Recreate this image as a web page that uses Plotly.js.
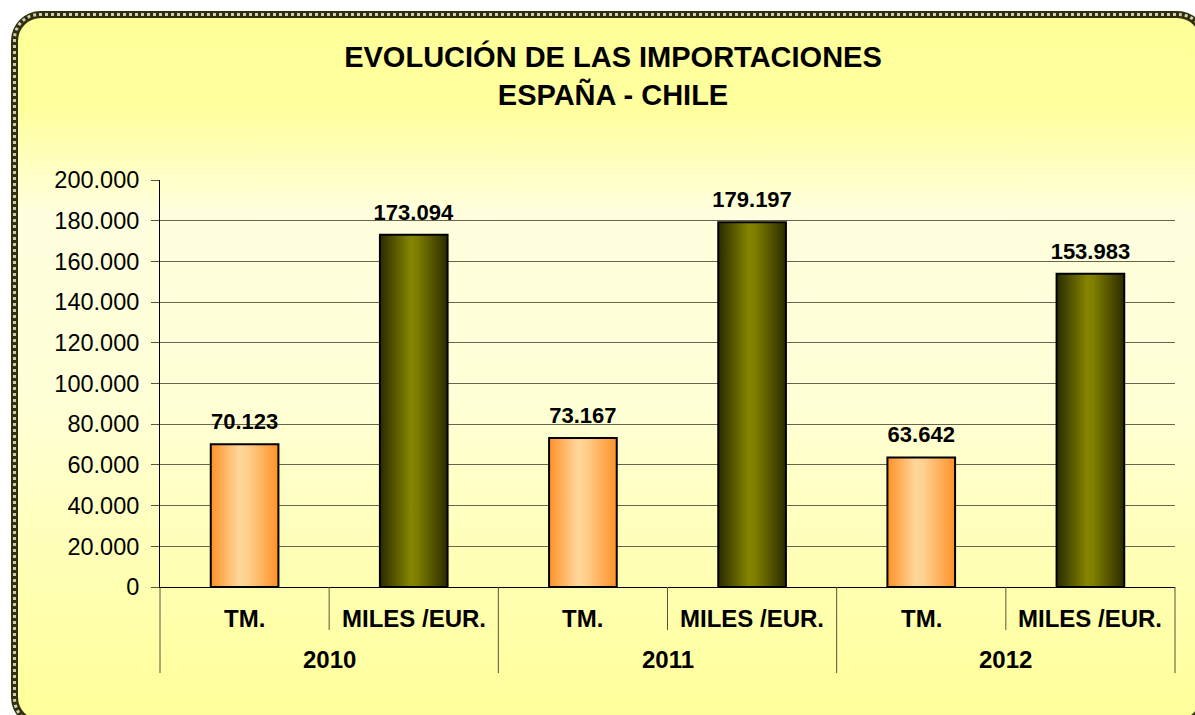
<!DOCTYPE html>
<html>
<head>
<meta charset="utf-8">
<script src="https://cdn.plot.ly/plotly-3.0.1.min.js"></script>
<style>
  html, body { margin:0; padding:0; width:1195px; height:715px; overflow:hidden; background:#ffffff; }
  #frame {
    position:absolute; left:11px; top:11px; width:1196px; height:716px;
    box-sizing:border-box; border:7px solid #30300c; border-radius:30px;
    background: linear-gradient(to bottom, #FFFF99 0%, #FFFF9E 13%, #FFFFDF 28%, #FFFFD6 55%, #FFFFB0 82%, #FFFF99 100%);
  }
  #frame::after {
    content:""; position:absolute; left:-5px; top:-5px; right:-5px; bottom:-5px;
    border:3px dotted rgba(235,235,215,0.85); border-radius:26px;
  }
  #chart { position:absolute; left:0; top:0; width:1195px; height:715px; }
</style>
</head>
<body>
<div id="frame"></div>
<div id="chart"></div>
<script>
const years = ["2010", "2011", "2012"];
const units = ["TM.", "MILES /EUR."];
const tmValues = [70123, 73167, 63642];
const milesValues = [173094, 179197, 153983];
const yTickVals = [0, 20000, 40000, 60000, 80000, 100000, 120000, 140000, 160000, 180000, 200000];

const xYears = [], xUnits = [], yVals = [];
years.forEach((yr, i) => {
  xYears.push(yr, yr);
  xUnits.push(units[0], units[1]);
  yVals.push(tmValues[i], milesValues[i]);
});
const colors = yVals.map((v, i) => i % 2 === 0 ? '#FF9933' : '#6B6B00');

const FONT = 'Liberation Sans, Arial, Helvetica, sans-serif';

const trace = {
  type: 'bar',
  x: [xYears, xUnits],
  y: yVals,
  marker: { color: colors, line: { color: '#000000', width: 2 } },
  texttemplate: '%{y:,.0f}',
  textposition: 'outside',
  constraintext: 'none',
  textfont: { family: FONT, size: 22, color: '#000000', weight: 'bold' },
  cliponaxis: false,
  hoverinfo: 'skip'
};

const n = xUnits.length;
const annotations = [];
const shapes = [];
for (let i = 0; i < n; i++) {
  annotations.push({
    xref: 'paper', yref: 'paper', x: (i + 0.5) / n, y: 0,
    text: xUnits[i], showarrow: false, xanchor: 'center', yanchor: 'middle', yshift: -31,
    font: { family: FONT, size: 24, color: '#000000', weight: 'bold' }
  });
}
years.forEach((yr, j) => {
  annotations.push({
    xref: 'paper', yref: 'paper', x: (2 * j + 1) / n, y: 0,
    text: yr, showarrow: false, xanchor: 'center', yanchor: 'middle', yshift: -72,
    font: { family: FONT, size: 24, color: '#000000', weight: 'bold' }
  });
});
const plotH = 715 - 180 - 128;
for (let k = 0; k <= n; k++) {
  const full = (k % 2 === 0);
  shapes.push({
    type: 'line', xref: 'paper', yref: 'paper',
    x0: k / n, x1: k / n, y0: 0, y1: -(full ? 86 : 43) / plotH,
    line: { color: '#55553a', width: 1 }
  });
}

const layout = {
  width: 1195, height: 715,
  margin: { l: 160, r: 20, t: 180, b: 128, pad: 0 },
  paper_bgcolor: 'rgba(0,0,0,0)',
  plot_bgcolor: 'rgba(0,0,0,0)',
  separators: ',.',
  showlegend: false,
  bargap: 0.6,
  title: {
    text: 'EVOLUCIÓN DE LAS IMPORTACIONES<br>ESPAÑA - CHILE',
    font: { family: FONT, size: 29, color: '#000000', weight: 'bold' },
    xref: 'container', yref: 'container',
    x: 613 / 1195, xanchor: 'center',
    y: 1 - 67 / 715, yanchor: 'top'
  },
  xaxis: {
    type: 'multicategory',
    showticklabels: false,
    showdividers: false,
    showgrid: false,
    ticks: '',
    showline: true, linecolor: '#000000', linewidth: 1,
    fixedrange: true
  },
  yaxis: {
    range: [0, 200000],
    tickvals: yTickVals,
    tickformat: ',.0f',
    ticks: 'outside', ticklen: 8, tickcolor: '#55553a', tickwidth: 1,
    ticklabelstandoff: 7,
    showline: true, linecolor: '#000000', linewidth: 1,
    showgrid: true, gridcolor: '#66664d', gridwidth: 1,
    zeroline: false,
    tickfont: { family: FONT, size: 23.5, color: '#000000' },
    fixedrange: true
  },
  annotations: annotations,
  shapes: shapes
};

Plotly.newPlot('chart', [trace], layout, { staticPlot: true, displayModeBar: false }).then(gd => {
  const svg = gd.querySelector('.main-svg');
  const ns = 'http://www.w3.org/2000/svg';
  let defs = svg.querySelector('defs');
  if (!defs) { defs = document.createElementNS(ns, 'defs'); svg.insertBefore(defs, svg.firstChild); }
  function addGrad(id, stops) {
    const g = document.createElementNS(ns, 'linearGradient');
    g.setAttribute('id', id);
    g.setAttribute('x1', '0'); g.setAttribute('y1', '0');
    g.setAttribute('x2', '1'); g.setAttribute('y2', '0');
    stops.forEach(s => {
      const st = document.createElementNS(ns, 'stop');
      st.setAttribute('offset', s[0]);
      st.setAttribute('stop-color', s[1]);
      g.appendChild(st);
    });
    defs.appendChild(g);
  }
  addGrad('gOrange', [['0', '#FF9128'], ['0.42', '#FFD79C'], ['0.55', '#FFCF8C'], ['1', '#FF9128']]);
  addGrad('gOlive', [['0', '#2A2A00'], ['0.45', '#858500'], ['0.55', '#7E7E00'], ['1', '#2A2A00']]);
  const paths = gd.querySelectorAll('.barlayer .point path');
  paths.forEach((p, i) => {
    p.style.fill = (i % 2 === 0) ? 'url(#gOrange)' : 'url(#gOlive)';
    p.style.fillOpacity = 1;
  });
  gd.querySelectorAll('.barlayer .point text').forEach(t => {
    const tr = t.getAttribute('transform') || '';
    t.setAttribute('transform', 'translate(0,-7) ' + tr);
  });
});
</script>
</body>
</html>
